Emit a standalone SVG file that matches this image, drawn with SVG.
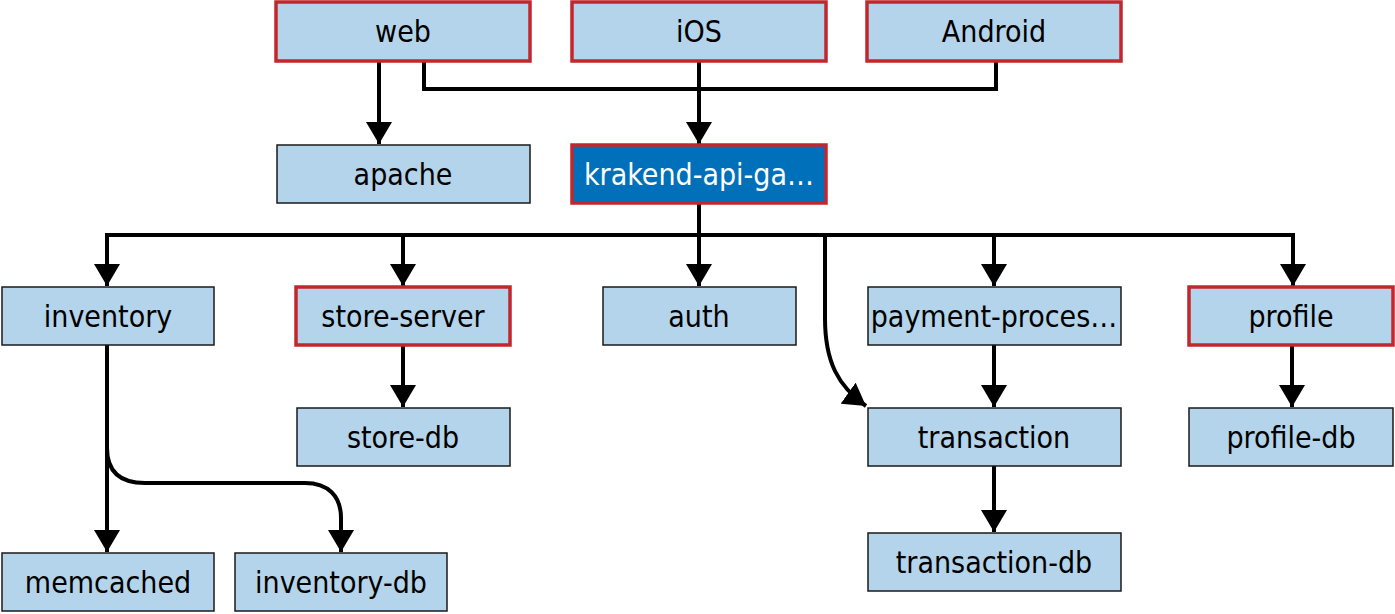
<svg xmlns="http://www.w3.org/2000/svg" width="1395" height="614" viewBox="0 0 1395 614">
<style>
.n{fill:#b3d4ea;stroke:#1a1a1a;stroke-width:1.5}
.r{fill:#b3d4ea;stroke:#c1272d;stroke-width:3.5}
.k{fill:#0070bb;stroke:#c1272d;stroke-width:3.5}
text{font-family:"Liberation Sans Narrow","DejaVu Sans Condensed","Liberation Sans",sans-serif;font-size:30px;fill:#000;text-anchor:middle;dominant-baseline:central}
.w{fill:#fff}
.c{fill:none;stroke:#000;stroke-width:4}
</style>
<defs>
<marker id="a" markerUnits="userSpaceOnUse" markerWidth="24" markerHeight="26" viewBox="0 0 24 26" refX="22" refY="13" orient="auto">
<path d="M0,0 L22,13 L0,26 Z" fill="#000"/>
</marker>
</defs>
<g id="connectors">
<path class="c" d="M379,61 V144" marker-end="url(#a)"/>
<path class="c" d="M424,61 V89 H996 V61"/>
<path class="c" d="M699,61 V144" marker-end="url(#a)"/>
<path class="c" d="M699,203 V235"/>
<path class="c" d="M107,250 V235 H1293 V250"/>
<path class="c" d="M107,235 V286" marker-end="url(#a)"/>
<path class="c" d="M403,235 V286" marker-end="url(#a)"/>
<path class="c" d="M699,235 V286" marker-end="url(#a)"/>
<path class="c" d="M994,235 V286" marker-end="url(#a)"/>
<path class="c" d="M1293,235 V286" marker-end="url(#a)"/>
<path class="c" d="M825,235 V318 C825,362 838,386 866,406" marker-end="url(#a)"/>
<path class="c" d="M403,345 V407" marker-end="url(#a)"/>
<path class="c" d="M994,345 V407" marker-end="url(#a)"/>
<path class="c" d="M1292,345 V407" marker-end="url(#a)"/>
<path class="c" d="M994,466 V532" marker-end="url(#a)"/>
<path class="c" d="M107,345 V552" marker-end="url(#a)"/>
<path class="c" d="M107,448 C107,472 120,483 145,483 H305 C328,483 341,496 341,518 V552" marker-end="url(#a)"/>
</g>
<g id="web"><rect class="r" x="276" y="2" width="254" height="59"/><text x="403" y="31">web</text></g>
<g id="ios"><rect class="r" x="572" y="2" width="254" height="59"/><text x="699" y="31">iOS</text></g>
<g id="android"><rect class="r" x="867" y="2" width="254" height="59"/><text x="994" y="31">Android</text></g>
<g id="apache"><rect class="n" x="277" y="145" width="253" height="58"/><text x="403" y="174">apache</text></g>
<g id="krakend"><rect class="k" x="572" y="145" width="254" height="58"/><text class="w" x="699" y="174">krakend-api-ga…</text></g>
<g id="inventory"><rect class="n" x="2" y="287" width="212" height="58"/><text x="108" y="316">inventory</text></g>
<g id="store-server"><rect class="r" x="296" y="287" width="214" height="58"/><text x="403" y="316">store-server</text></g>
<g id="auth"><rect class="n" x="603" y="287" width="193" height="58"/><text x="699" y="316">auth</text></g>
<g id="payment"><rect class="n" x="868" y="287" width="253" height="58"/><text x="994" y="316">payment-proces…</text></g>
<g id="profile"><rect class="r" x="1189" y="287" width="204" height="58"/><text x="1291" y="316">profile</text></g>
<g id="store-db"><rect class="n" x="297" y="408" width="213" height="58"/><text x="403" y="437">store-db</text></g>
<g id="transaction"><rect class="n" x="868" y="408" width="253" height="58"/><text x="994" y="437">transaction</text></g>
<g id="profile-db"><rect class="n" x="1189" y="408" width="204" height="58"/><text x="1291" y="437">profile-db</text></g>
<g id="memcached"><rect class="n" x="2" y="553" width="212" height="58"/><text x="108" y="582">memcached</text></g>
<g id="inventory-db"><rect class="n" x="235" y="553" width="212" height="58"/><text x="341" y="582">inventory-db</text></g>
<g id="transaction-db"><rect class="n" x="868" y="533" width="253" height="58"/><text x="994" y="562">transaction-db</text></g>
</svg>
